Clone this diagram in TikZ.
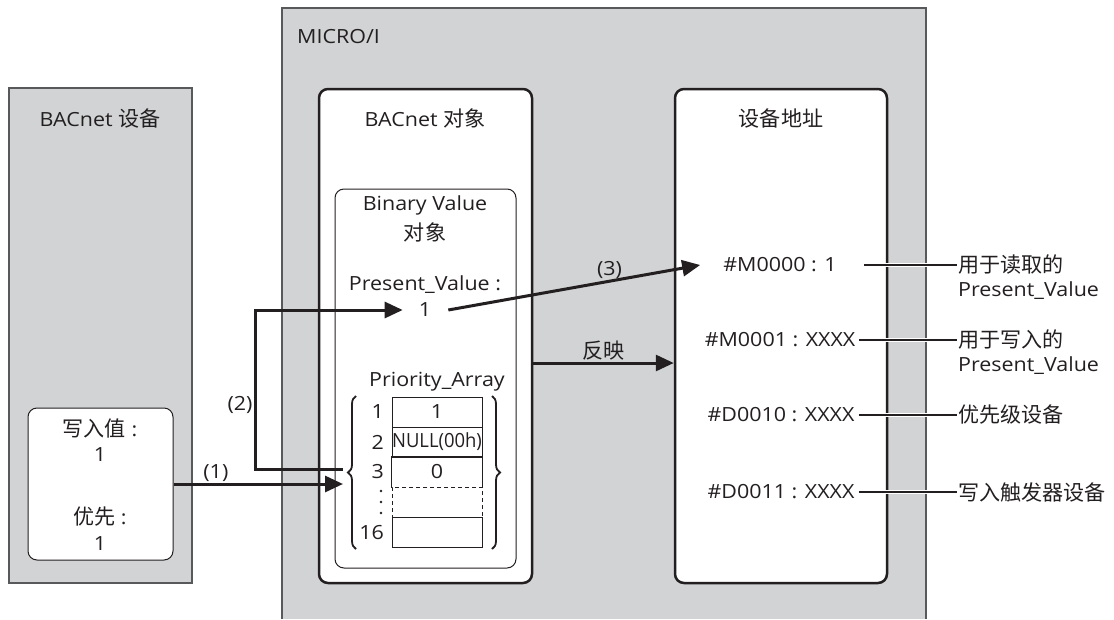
\documentclass[tikz,border=0pt]{standalone}
\usepackage{fontspec}
\usepackage{graphicx}
\setmainfont[FakeStretch=1.1]{Open Sans}
\newfontfamily\cjk[Scale=1.08]{Noto Sans CJK SC}
\usepackage{tikz}
\usetikzlibrary{positioning,arrows.meta,decorations.pathreplacing}
\definecolor{panelgrey}{RGB}{209,211,212}
\definecolor{edgegrey}{RGB}{88,89,91}
\definecolor{ink}{RGB}{35,31,32}
\newcommand{\lbl}{\fontsize{19.5}{23}\selectfont}
\tikzset{
  grey panel/.style={
    draw=edgegrey,
    fill=panelgrey,
    line width=1.2pt,
    inner sep=0pt
  },
  white panel/.style={
    draw=ink,
    fill=white,
    line width=2.5pt,
    rounded corners=9pt,
    inner sep=0pt
  },
  sub panel/.style={
    draw=ink,
    fill=white,
    line width=1pt,
    rounded corners=9pt,
    inner sep=0pt
  },
  txt/.style={
    text=ink,
    font=\lbl,
    inner sep=1pt
  },
  cell/.style={
    draw=ink,
    line width=1pt,
    minimum width=90pt,
    minimum height=30pt,
    inner sep=0pt,
    text=ink,
    font=\lbl
  },
  flow/.style={
    -{Triangle[length=18pt,width=16pt]},
    draw=ink,
    line width=3pt
  },
  leader/.style={
    draw=ink,
    line width=1.2pt,
    preaction={draw=white, line width=4pt}
  },
  curly/.style={
    draw=ink,
    line width=1.8pt,
    decorate,
    decoration={brace, amplitude=8pt}
  }
}

\begin{document}
\begin{tikzpicture}[x=1pt, y=-1pt]
  \useasboundingbox (0,0) rectangle (1114,619);

  % MICRO/I panel
  \fill[panelgrey] (282,8) rectangle (926,619);
  \draw[edgegrey, line width=1.2pt] (282,619) -- (282,8) -- (926,8) -- (926,619);
  \node[txt, anchor=west] (micro) at (296,37) {MICRO/I};

  % BACnet device
  \node[grey panel, minimum width=183pt, minimum height=495pt] (dev) at (100.5,335.5) {};
  \node[txt] (devtitle) at (100,118) {BACnet {\cjk 设备}};
  \node[sub panel, minimum width=145pt, minimum height=152pt] (wbox) at (100.5,484) {};
  \node[txt] (wlabel) at (100,428) {{\cjk 写入值} :};
  \node[txt] (wval) at (100,455) {1};
  \node[txt] (plabel) at (100,517) {{\cjk 优先} :};
  \node[txt] (pval) at (100,544) {1};

  % BACnet object
  \node[white panel, minimum width=213pt, minimum height=494pt] (obj) at (425.5,336) {};
  \node[txt] (objtitle) at (425,118) {BACnet {\cjk 对象}};
  \node[sub panel, minimum width=181pt, minimum height=379pt] (bv) at (425.5,378.5) {};
  \node[txt] (bvtitle) at (425,205) {Binary Value};
  \node[txt] (bvsub) at (425,232) {\cjk 对象};
  \node[txt] (pvname) at (425,285) {Present\_Value :};
  \node[txt] (pv) at (425,310) {1};
  \node[txt] (paname) at (437,382) {Priority\_Array};

  % Priority array
  \node[cell] (c1) at (437,412) {1};
  \node[cell] (c2) at (437,442) {\scalebox{0.86}[1]{NULL(00h)}};
  \node[cell, draw=none] (c3) at (437,472) {0};
  \draw[ink, line width=1pt] (c3.south west) -- (c3.north west) -- (c3.north east) -- (c3.south east);
  \node[cell, dash pattern=on 4pt off 3pt] (c4) at (437,502) {};
  \node[cell] (c16) at (437,532) {};
  \node[txt, anchor=east] (n1) at (385,412) {1};
  \node[txt, anchor=east] (n2) at (385,442) {2};
  \node[txt, anchor=east] (n3) at (385,472) {3};
  \node[txt, anchor=east] (n16) at (385,533) {16};
  \foreach \y in {491,502,513}
    \fill[ink] (381,\y) circle (1.3pt);
  \draw[curly] (356,549) -- (356,396);
  \draw[curly] (492,396) -- (492,549);

  % Device address
  \node[white panel, minimum width=212pt, minimum height=494pt] (addr) at (781,336) {};
  \node[txt] (addrtitle) at (781,118) {\cjk 设备地址};
  \node[txt] (m0) at (780,265) {\#M0000 : 1};
  \node[txt] (m1) at (780,340) {\#M0001 : XXXX};
  \node[txt] (d10) at (781,415) {\#D0010 : XXXX};
  \node[txt] (d11) at (781,492) {\#D0011 : XXXX};

  % Notes
  \node[txt, anchor=west] (r0) at (957,265) {\cjk 用于读取的};
  \node[txt, anchor=west] (r0b) at (957,291) {Present\_Value};
  \node[txt, anchor=west] (r1) at (957,340) {\cjk 用于写入的};
  \node[txt, anchor=west] (r1b) at (957,366) {Present\_Value};
  \node[txt, anchor=west] (r2) at (957,415) {\cjk 优先级设备};
  \node[txt, anchor=west] (r3) at (957,492) {\cjk 写入触发器设备};

  \draw[leader] ([xshift=26pt]m0.east) -- (r0.west);
  \draw[leader] ([xshift=3pt]m1.east) -- (r1.west);
  \draw[leader] ([xshift=3pt]d10.east) -- (r2.west);
  \draw[leader] ([xshift=3pt]d11.east) -- (r3.west);

  % Write flow
  \coordinate (in1) at (343,484);
  \coordinate (out2) at (343,469);
  \draw[flow] (wbox.east) -- node[txt, above, pos=0.25] (lab1) {(1)} (in1);
  \draw[flow] (out2) -- (255,469) |- node[txt, left, pos=0.2] (lab2) {(2)} ([xshift=-15pt]pv.west);
  \draw[flow] ([xshift=16pt]pv.east) -- node[txt, above, pos=0.64] (lab3) {(3)} ([xshift=-22pt]m0.west);
  \draw[flow] ([yshift=-27pt]obj.east) -- node[txt, above] (lab4) {\cjk 反映} ([yshift=-27pt]addr.west);

\end{tikzpicture}
\end{document}
